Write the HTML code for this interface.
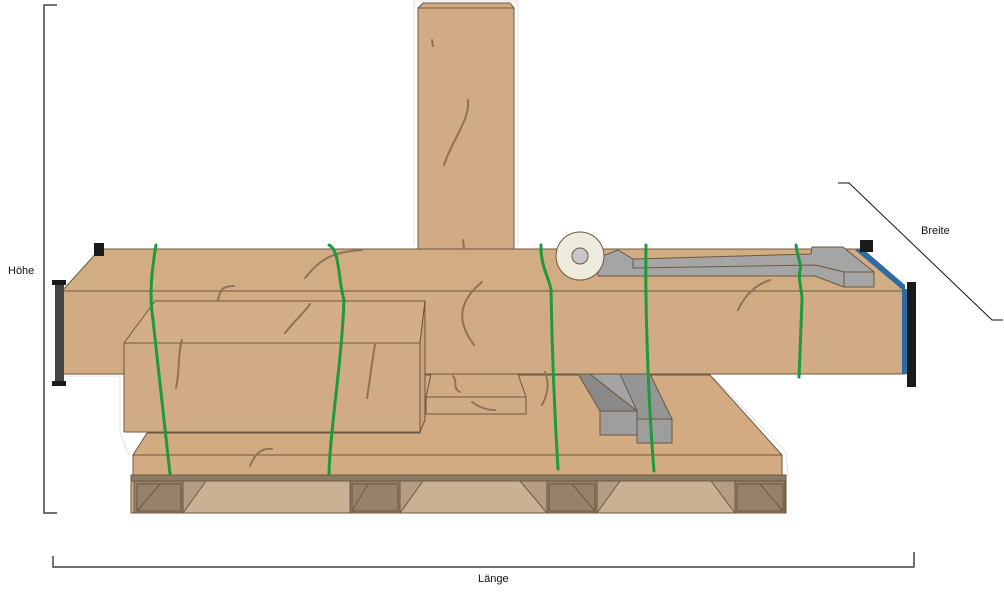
<!DOCTYPE html>
<html><head><meta charset="utf-8"><style>
html,body{margin:0;padding:0;background:#fff;width:1004px;height:595px;overflow:hidden}
svg{display:block}
text{font-family:"Liberation Sans",sans-serif;font-size:11px;fill:#111}
</style></head><body>
<svg width="1004" height="595" viewBox="0 0 1004 595">
<!-- dimension lines -->
<g stroke="#444" stroke-width="1.5" fill="none">
<polyline points="57,5 44,5 44,513 57,513"/>
<polyline points="53,556 53,567 914,567 914,552"/>
</g>
<polyline points="838,183 849,183 992,320 1003,320" stroke="#111" stroke-width="1" fill="none"/>
<text x="8" y="274">Höhe</text>
<text x="478" y="582">Länge</text>
<text x="921" y="234">Breite</text>

<!-- white halo -->
<g fill="none" stroke="#e2e2e2" stroke-width="1">
<polyline points="414,246 414,1 518,1 518,246"/>
<polyline points="714,378 786,452 788,476"/>
<polyline points="64,376 120,376 120,432 129,455"/>
</g>

<g stroke="#6b5840" stroke-width="1" stroke-linejoin="round">
<!-- column -->
<polygon points="418,8 423,3 510,3 514,8 514,252 418,252" fill="#d0ab83"/>
<line x1="418" y1="8" x2="514" y2="8"/>
<!-- platform -->
<polygon points="147,433 420,433 420,375 710,375 782,455 782,475 133,475 133,455" fill="#d2ab82"/>
<line x1="133" y1="455" x2="782" y2="455"/>
<!-- pallet -->
<rect x="131" y="475" width="655" height="6" fill="#8d7a66"/>
<rect x="131" y="481" width="655" height="32" fill="#c9b293"/>
<g fill="#96816b">
<rect x="134" y="481" width="49" height="32"/><rect x="350" y="481" width="50" height="32"/>
<rect x="547" y="481" width="50" height="32"/><rect x="735" y="481" width="50" height="32"/>
</g>
<g fill="#b49d82">
<polygon points="183,481 206,481 183,513"/><polygon points="400,481 423,481 400,513"/>
<polygon points="597,481 620,481 597,513"/><polygon points="711,481 735,481 735,513"/>
<polygon points="520,481 547,481 547,513"/>
</g>
<g fill="none">
<rect x="137" y="484" width="44" height="27"/><rect x="352" y="484" width="46" height="27"/>
<rect x="549" y="484" width="46" height="27"/><rect x="737" y="484" width="46" height="27"/>
<line x1="137" y1="511" x2="160" y2="484"/><line x1="352" y1="511" x2="368" y2="484"/>
<line x1="572" y1="484" x2="595" y2="511"/><line x1="760" y1="484" x2="783" y2="511"/>
</g>
<!-- beam -->
<polygon points="62,291 100,249 860,249 905,291" fill="#d2ac83"/>
<rect x="62" y="291" width="843" height="83" fill="#d0ab83"/>
<!-- step block -->
<polygon points="431,374 518,374 526,397 426,397" fill="#d0ab83"/>
<rect x="426" y="397" width="100" height="17" fill="#d0ab83"/>
<!-- rails -->
<polygon points="578,374 590,374 637,411 600,411" fill="#8a8a8a"/>
<polygon points="590,374 620,374 650,411 637,411" fill="#a3a3a3"/>
<rect x="600" y="411" width="37" height="24" fill="#9e9e9e"/>
<polygon points="620,374 650,374 672,419 637,419 637,411" fill="#959595"/>
<rect x="637" y="419" width="35" height="24" fill="#9e9e9e"/>
<!-- box -->
<polygon points="124,343 155,301 425,301 420,343" fill="#d3ae86"/>
<rect x="124" y="343" width="296" height="89" fill="#d0ab83"/>
<polygon points="420,343 425,301 425,420 420,432" fill="#c8a27b"/>
<!-- wrench -->
<polygon points="598,276 598,258 618,250 633,259 811,254 812,247 843,247 874,272 874,287 844,287 815,276" fill="#a5a5a5"/>
<polyline points="633,259 633,268 815,265 844,272 874,272" fill="none"/>
<polyline points="844,272 844,287" fill="none"/>
<!-- tape -->
<circle cx="580" cy="256" r="24" fill="#ecebdd"/>
<circle cx="580" cy="256" r="8" fill="#c8c8cc"/>
</g>
<!-- end caps -->
<rect x="55" y="283" width="9" height="100" fill="#444"/>
<rect x="52" y="280" width="14" height="5" fill="#1a1a1a"/><rect x="52" y="381" width="14" height="5" fill="#1a1a1a"/>
<rect x="94" y="243" width="10" height="13" fill="#1a1a1a"/>
<polygon points="855,250 862,248 905,285 905,292" fill="#2e6aa3"/>
<rect x="902" y="289" width="6" height="85" fill="#2e6aa3"/>
<rect x="907" y="282" width="9" height="105" fill="#1a1a1a"/>
<rect x="860" y="240" width="13" height="12" fill="#1a1a1a"/>
<!-- grain marks -->
<g stroke="#8f7358" stroke-width="2" fill="none" stroke-linecap="round">
<path d="M444,165 C452,140 470,120 468,100"/><path d="M305,278 C320,260 330,252 362,250"/>
<path d="M218,300 C220,290 222,286 234,286"/><path d="M285,333 C295,320 305,312 310,304"/>
<path d="M474,345 C455,320 460,300 482,282"/><path d="M176,388 C180,370 178,350 182,340"/>
<path d="M367,398 C370,380 372,360 375,345"/><path d="M250,466 C256,452 262,448 272,449"/>
<path d="M738,310 C745,295 755,285 770,280"/><path d="M542,405 C550,390 548,380 545,372"/>
<path d="M472,402 C480,408 488,410 495,410"/><path d="M453,376 C458,382 452,388 460,392"/>
<path d="M464,248 L463,240"/><path d="M433,46 L432,40"/>
</g>
<!-- green straps -->
<g stroke="#1f9a3a" stroke-width="3" fill="none" stroke-linecap="round">
<path d="M156,245 C150,280 150,300 153,320 C160,380 165,430 170,474"/>
<path d="M329,245 C340,250 338,280 344,300 C342,360 330,430 329,474"/>
<path d="M541,245 C540,265 550,280 551,290 C552,350 555,420 558,469"/>
<path d="M646,245 C645,300 648,400 654,471"/>
<path d="M796,245 C798,260 802,265 800,270 C798,280 802,290 802,300 C801,330 800,350 799,377"/>
</g>
</svg>
</body></html>
